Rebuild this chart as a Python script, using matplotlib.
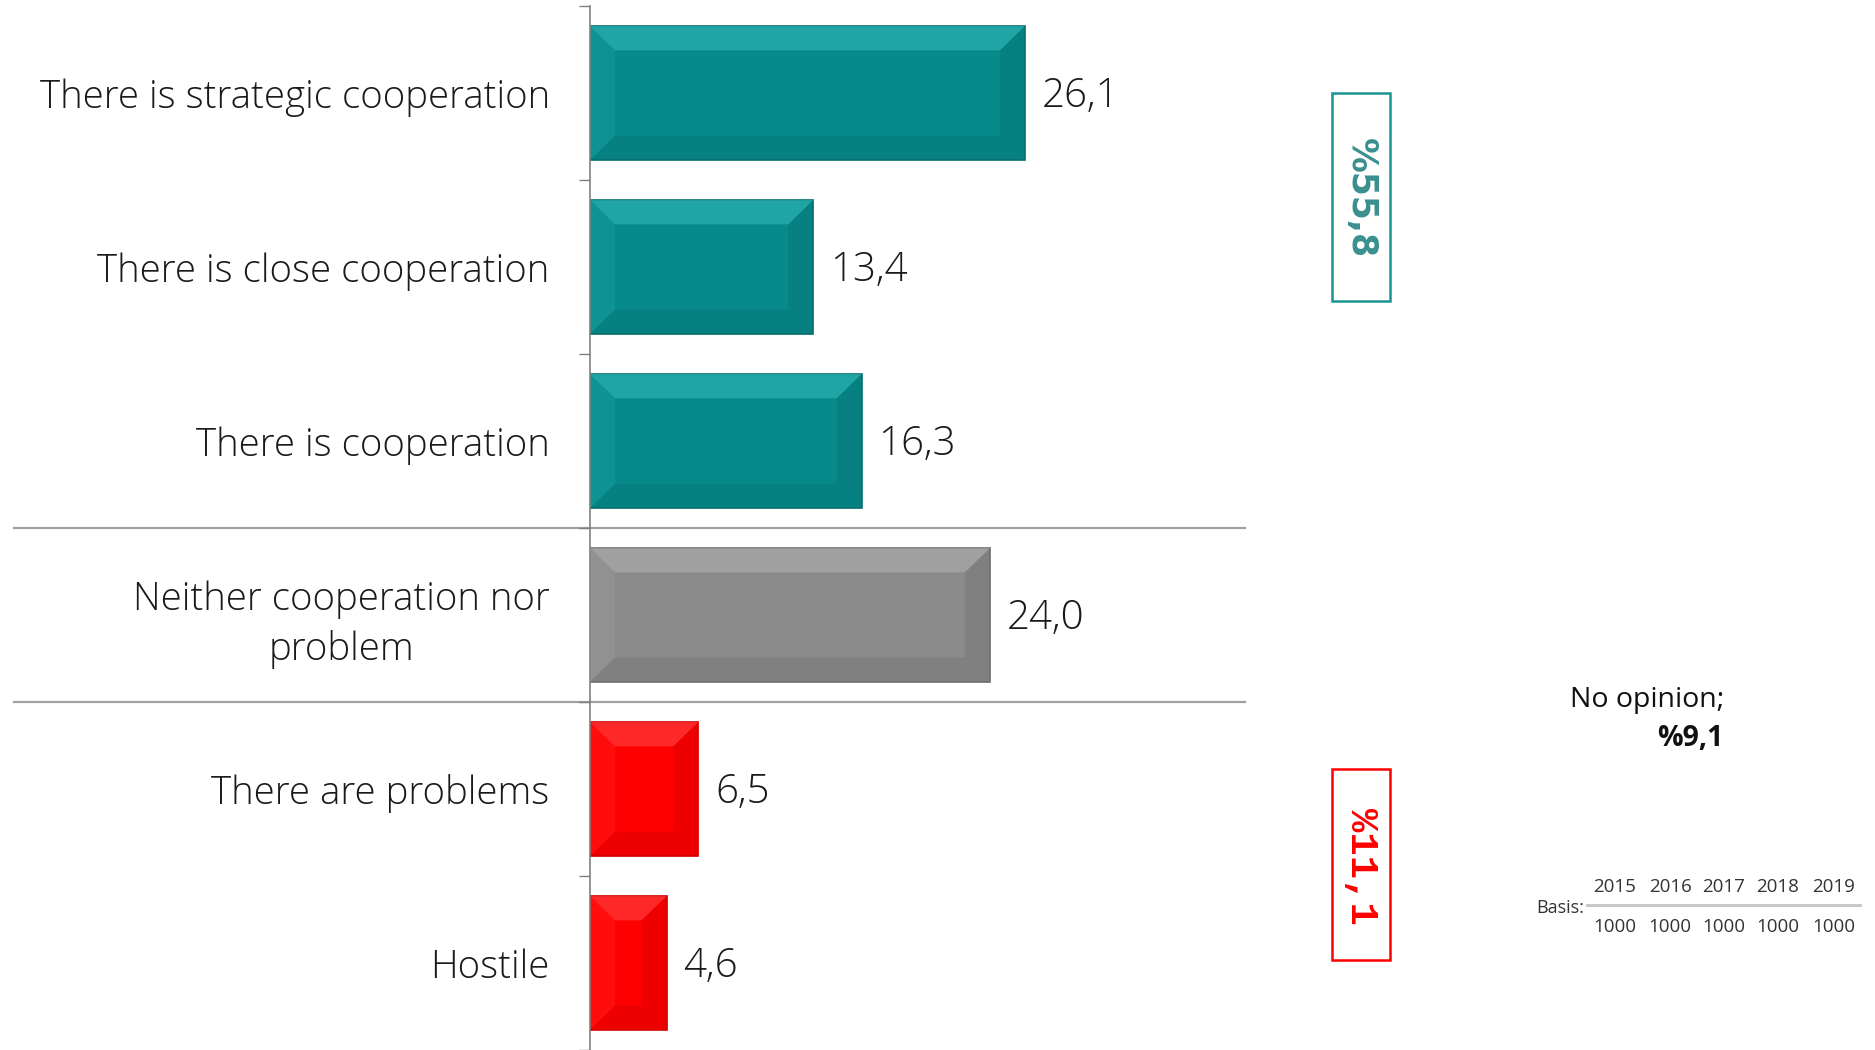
import numpy as np
import matplotlib.pyplot as plt
from matplotlib.patches import Polygon, Rectangle

categories = ['There is strategic cooperation', 'There is close cooperation',
              'There is cooperation', 'Neither cooperation nor\nproblem',
              'There are problems', 'Hostile']
values = [26.1, 13.4, 16.3, 24.0, 6.5, 4.6]
groups = ['pos', 'pos', 'pos', 'mid', 'neg', 'neg']

positive_total = '%55,8'
negative_total = '%11,1'
no_opinion = '%9,1'
basis_years = ['2015', '2016', '2017', '2018', '2019']
basis_n = ['1000', '1000', '1000', '1000', '1000']

# main colour, light edge, dark edge
palette = {
    'pos': ('#078a8a', '#3cc6c4', '#05706f'),
    'mid': ('#8a8a8a', '#bcbcbc', '#6e6e6e'),
    'neg': ('#ff0000', '#ff5a5a', '#d00000'),
}

plt.rcParams['font.family'] = ['Open Sans', 'DejaVu Sans']

fig = plt.figure(figsize=(18.75, 10.5), dpi=100)
ax = fig.add_axes([590 / 1875, 0, 655 / 1875, 1044 / 1050])

y = np.arange(len(categories))
h = 0.77
bx = 1.5   # bevel in x (data units)
by = 0.14  # bevel in y

for yi, v, g in zip(y, values, groups):
    main, light, dark = palette[g]
    ax.barh(yi, v, height=h, color=main, edgecolor=dark, linewidth=1.2, zorder=2)
    t, b = yi - h / 2, yi + h / 2
    bxx = min(bx, v / 3)
    # top (light), bottom (dark), left, right bevels
    ax.add_patch(Polygon([(0, t), (v, t), (v - bxx, t + by), (bxx, t + by)],
                         closed=True, color=light, alpha=0.45, lw=0, zorder=3))
    ax.add_patch(Polygon([(0, b), (v, b), (v - bxx, b - by), (bxx, b - by)],
                         closed=True, color=dark, alpha=0.35, lw=0, zorder=3))
    ax.add_patch(Polygon([(0, t), (bxx, t + by), (bxx, b - by), (0, b)],
                         closed=True, color=light, alpha=0.15, lw=0, zorder=3))
    ax.add_patch(Polygon([(v, t), (v - bxx, t + by), (v - bxx, b - by), (v, b)],
                         closed=True, color=dark, alpha=0.35, lw=0, zorder=3))
    ax.text(v + 1.0, yi + 0.02, f'{v:.1f}'.replace('.', ','), va='center', ha='left',
            fontsize=29, color='#1a1a1a', fontweight='light')

ax.set_ylim(len(categories) - 0.5, -0.5)
ax.set_xlim(0, 39.3)
ax.set_yticks(y)
ax.set_yticklabels(categories, fontsize=27.6, fontweight='light', color='#1a1a1a',
                   multialignment='center', linespacing=1.35)
ax.tick_params(axis='y', which='major', length=0, pad=29)
ax.set_yticks(np.arange(-0.5, len(categories), 1), minor=True)
ax.tick_params(axis='y', which='minor', length=8, color='#808080', width=1)
ax.set_xticks([])
for s in ['top', 'right', 'bottom']:
    ax.spines[s].set_visible(False)
ax.spines['left'].set_color('#808080')
ax.spines['left'].set_linewidth(1.2)

for sep in [2.5, 3.5]:
    ax.axhline(sep, xmin=(14 - 590) / 655, xmax=1, color='#a0a0a0', lw=1.6,
               clip_on=False, zorder=1)

# summary boxes
fig.patches.append(Rectangle((1332 / 1875, 1 - 301 / 1050), 58 / 1875, 208 / 1050,
                             transform=fig.transFigure, fill=False,
                             edgecolor='#1a9490', lw=1.8))
fig.text(1361 / 1875, 1 - 198 / 1050, positive_total, rotation=-90, ha='center',
         va='center', fontsize=25, fontweight='bold', color='#3a8f8f',
         family='DejaVu Sans')
fig.patches.append(Rectangle((1332 / 1875, 1 - 960 / 1050), 58 / 1875, 191 / 1050,
                             transform=fig.transFigure, fill=False,
                             edgecolor='#ff0000', lw=1.8))
fig.text(1361 / 1875, 1 - 866 / 1050, negative_total, rotation=-90, ha='center',
         va='center', fontsize=28, fontweight='bold', color='#ff0000',
         family='Liberation Mono')

fig.text(1724 / 1875, 1 - 700 / 1050, 'No opinion;', ha='right', va='center',
         fontsize=20.5, color='#111111')
fig.text(1724 / 1875, 1 - 738 / 1050, no_opinion, ha='right', va='center',
         fontsize=20.5, fontweight='bold', color='#111111')

# basis table
fig.text(1584 / 1875, 1 - 908 / 1050, 'Basis:', ha='right', va='center',
         fontsize=13, color='#333333')
fig.add_artist(plt.Line2D([1587 / 1875, 1860 / 1875], [1 - 905 / 1050] * 2,
                          transform=fig.transFigure, color='#c8c8c8', lw=2.2))
col_x = [1615, 1670, 1724, 1778, 1834]
for cx, yr, n in zip(col_x, basis_years, basis_n):
    fig.text(cx / 1875, 1 - 887 / 1050, yr, ha='center', va='center',
             fontsize=13.5, color='#333333')
    fig.text(cx / 1875, 1 - 927 / 1050, n, ha='center', va='center',
             fontsize=13.5, color='#333333')

fig.savefig('out.png', dpi=100, facecolor='white')
